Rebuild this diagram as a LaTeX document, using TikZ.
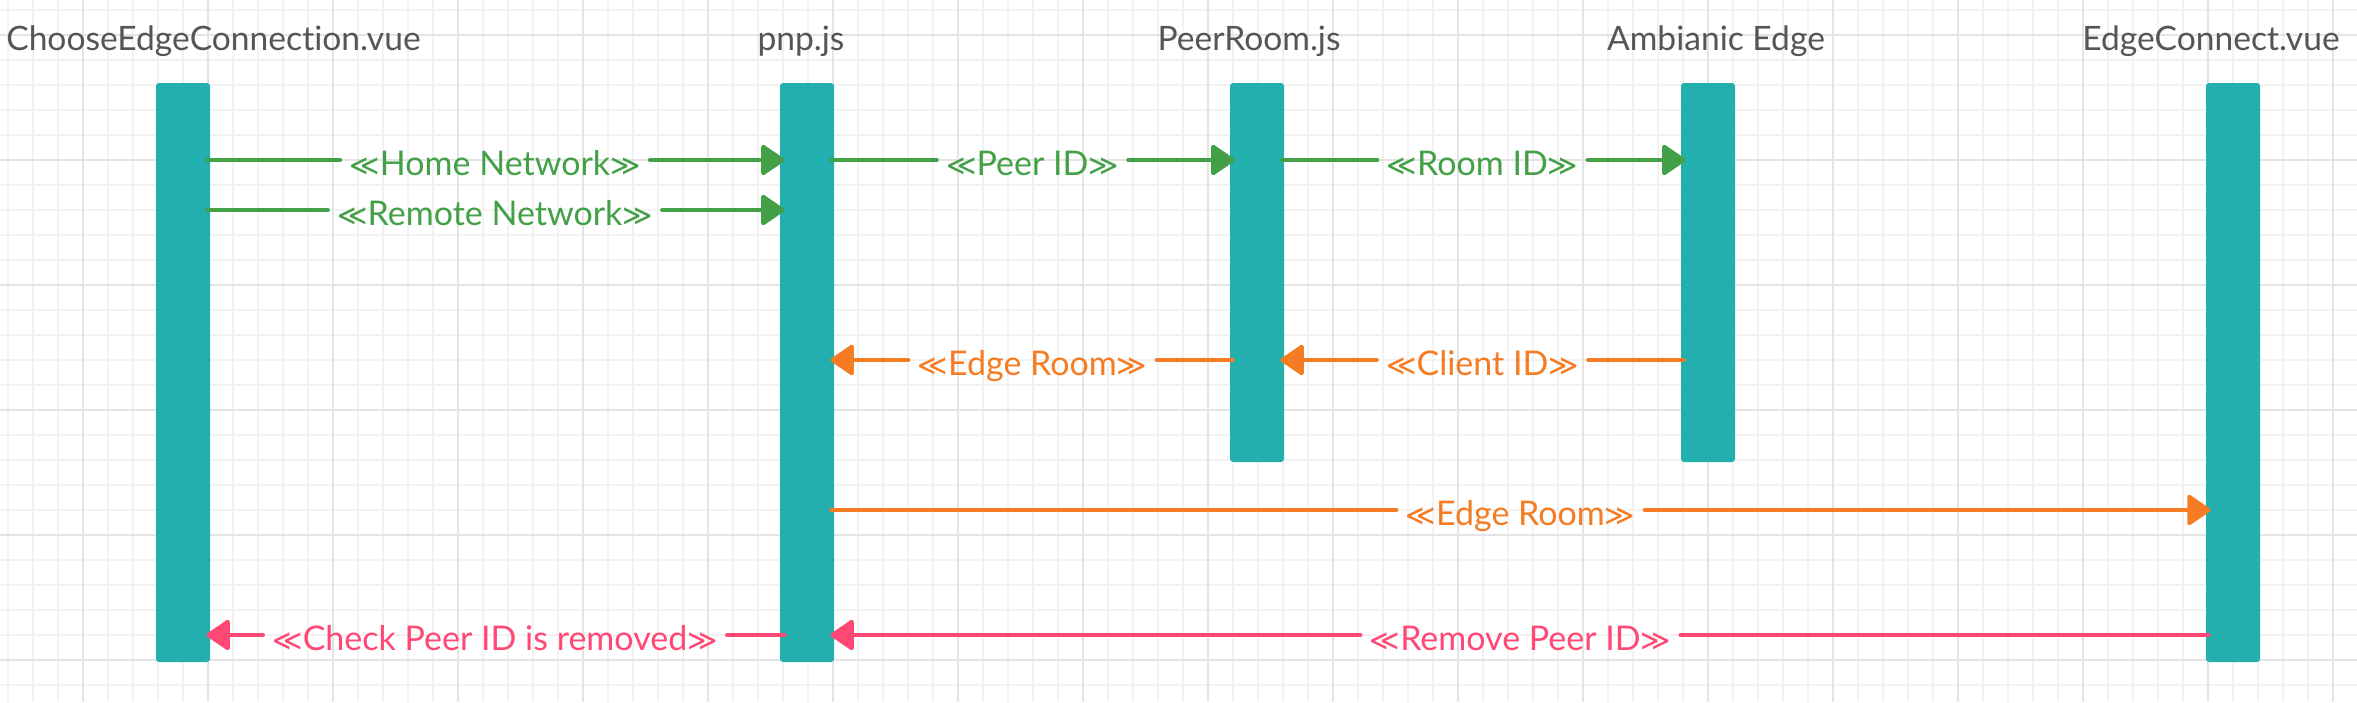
\documentclass[tikz,border=0pt]{standalone}
\usepackage{fontspec}
\setmainfont{Lato}[Ligatures=NoCommon]
\newfontfamily\symf{DejaVu Sans}
\usetikzlibrary{arrows.meta}
\definecolor{boxteal}{RGB}{35,175,174}
\definecolor{titlegray}{RGB}{85,85,85}
\definecolor{cgreen}{RGB}{67,160,71}
\definecolor{corange}{RGB}{245,124,34}
\definecolor{cpink}{RGB}{255,72,115}
\definecolor{gridminor}{RGB}{242,242,242}
\definecolor{gridmajor}{RGB}{228,228,228}
\newcommand{\lch}{{\symf\fontsize{14.5}{16}\selectfont ≪}}
\newcommand{\rch}{{\symf\fontsize{14.5}{16}\selectfont ≫}}
\tikzset{
  lifebox/.style={fill=boxteal, draw=none, rounded corners=1.5pt, minimum width=27pt, inner sep=0pt},
  title/.style={text=titlegray, font=\fontsize{16.8}{20}\selectfont, anchor=base, inner sep=0pt},
  lbl/.style={font=\fontsize{17}{20}\selectfont, inner xsep=4.5pt, inner ysep=0pt, anchor=base},
  msg/.style={line width=2pt, line cap=round},
  tip/.style={-{Triangle[length=12.5pt,width=16.5pt,round]}},
  gminor/.style={draw=gridminor, line width=0.8pt},
  gmajor/.style={draw=gridmajor, line width=1.1pt},
}
\begin{document}
\begin{tikzpicture}[x=0.5pt,y=-0.5pt]
\fill[white] (0,0) rectangle (2357,702);
\useasboundingbox (0,0) rectangle (2357,702);
% grid
\foreach \x in {8,33,...,2357} \draw[gminor] (\x,0) -- (\x,702);
\foreach \y in {10,35,...,702} \draw[gminor] (0,\y) -- (2357,\y);
\foreach \x in {83,208,...,2357} \draw[gmajor] (\x,0) -- (\x,702);
\foreach \y in {35,160,...,702} \draw[gmajor] (0,\y) -- (2357,\y);
% titles
\node[title] (T1) at (213.5,50) {ChooseEdgeConnection.vue};
\node[title] (T2) at (801,50) {pnp.js};
\node[title] (T3) at (1249,50) {PeerRoom.js};
\node[title] (T4) at (1716,50) {Ambianic Edge};
\node[title] (T5) at (2211,50) {EdgeConnect.vue};
% lifelines
\node[lifebox, minimum height=289.5pt] (L1) at (183,372.5) {};
\node[lifebox, minimum height=289.5pt] (L2) at (807,372.5) {};
\node[lifebox, minimum height=189.5pt] (L3) at (1257,272.5) {};
\node[lifebox, minimum height=189.5pt] (L4) at (1708,272.5) {};
\node[lifebox, minimum height=289.5pt] (L5) at (2233,372.5) {};
% rows
\coordinate (r1) at (0,160);
\coordinate (r2) at (0,210);
\coordinate (r3) at (0,360);
\coordinate (r4) at (0,510);
\coordinate (r5) at (0,635);
% labels
\node[lbl, text=cgreen] (m1) at (495,175) {\lch Home Network\rch};
\node[lbl, text=cgreen] (m2) at (495,225) {\lch Remote Network\rch};
\node[lbl, text=cgreen] (m3) at (1032.5,175) {\lch Peer ID\rch};
\node[lbl, text=cgreen] (m4) at (1482.5,175) {\lch Room ID\rch};
\node[lbl, text=corange] (m5) at (1032.5,375) {\lch Edge Room\rch};
\node[lbl, text=corange] (m6) at (1482.5,375) {\lch Client ID\rch};
\node[lbl, text=corange] (m7) at (1520.5,525) {\lch Edge Room\rch};
\node[lbl, text=cpink] (m8) at (1520.5,650) {\lch Remove Peer ID\rch};
\node[lbl, text=cpink] (m9) at (495,650) {\lch Check Peer ID is removed\rch};
% messages
\draw[msg, cgreen, shorten <=-1.5pt] (L1.east |- r1) -- (m1.west |- r1);
\draw[msg, cgreen, tip, shorten >=-2.5pt] (m1.east |- r1) -- (L2.west |- r1);
\draw[msg, cgreen, shorten <=-1.5pt] (L1.east |- r2) -- (m2.west |- r2);
\draw[msg, cgreen, tip, shorten >=-2.5pt] (m2.east |- r2) -- (L2.west |- r2);
\draw[msg, cgreen, shorten <=-1.5pt] (L2.east |- r1) -- (m3.west |- r1);
\draw[msg, cgreen, tip, shorten >=-2.5pt] (m3.east |- r1) -- (L3.west |- r1);
\draw[msg, cgreen, shorten <=-1.5pt] (L3.east |- r1) -- (m4.west |- r1);
\draw[msg, cgreen, tip, shorten >=-2.5pt] (m4.east |- r1) -- (L4.west |- r1);
\draw[msg, corange, shorten <=-1.5pt] (L3.west |- r3) -- (m5.east |- r3);
\draw[msg, corange, tip, shorten >=-2pt] (m5.west |- r3) -- (L2.east |- r3);
\draw[msg, corange, shorten <=-1.5pt] (L4.west |- r3) -- (m6.east |- r3);
\draw[msg, corange, tip, shorten >=-2pt] (m6.west |- r3) -- (L3.east |- r3);
\draw[msg, corange, shorten <=-1.5pt] (L2.east |- r4) -- (m7.west |- r4);
\draw[msg, corange, tip, shorten >=-2.5pt] (m7.east |- r4) -- (L5.west |- r4);
\draw[msg, cpink, shorten <=-1.5pt] (L5.west |- r5) -- (m8.east |- r5);
\draw[msg, cpink, tip, shorten >=-2pt] (m8.west |- r5) -- (L2.east |- r5);
\draw[msg, cpink, shorten <=-2.5pt] (L2.west |- r5) -- (m9.east |- r5);
\draw[msg, cpink, tip, shorten >=-2pt] (m9.west |- r5) -- (L1.east |- r5);
\end{tikzpicture}
\end{document}
